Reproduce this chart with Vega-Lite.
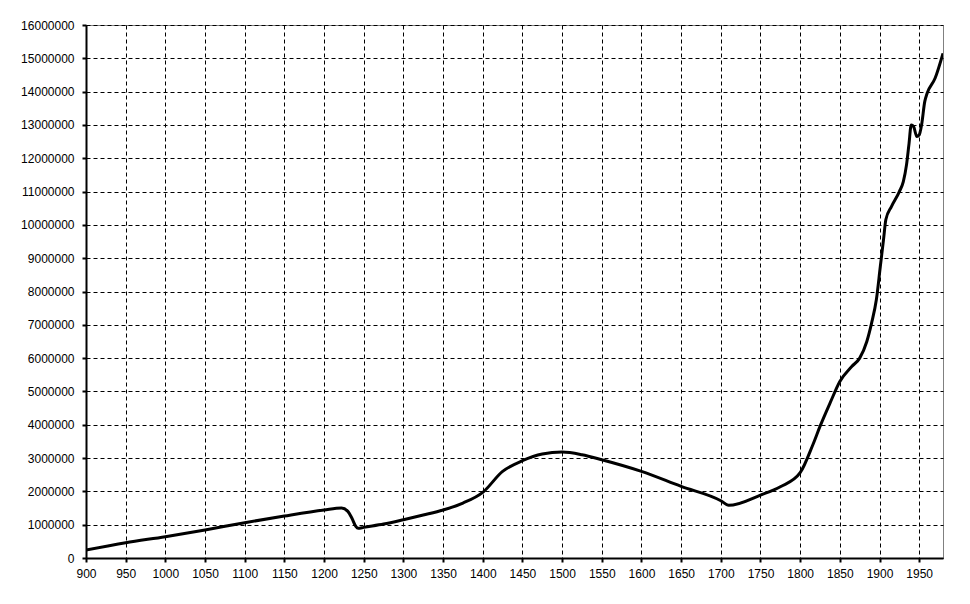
{
  "$schema": "https://vega.github.io/schema/vega-lite/v6.json",
  "width": 857,
  "height": 533,
  "autosize": "none",
  "padding": {"left": 86, "top": 25, "right": 27, "bottom": 46},
  "background": "white",
  "config": {
    "view": {"stroke": "#808080", "strokeWidth": 1},
    "axis": {
      "labelFont": "Liberation Sans",
      "labelFontSize": 12,
      "labelColor": "black",
      "domainColor": "black",
      "domainWidth": 2,
      "tickColor": "black",
      "tickWidth": 2,
      "tickSize": 4,
      "gridColor": "black",
      "gridDash": [4, 3],
      "gridWidth": 1,
      "gridOpacity": 1,
      "title": null
    }
  },
  "data": {
    "values": [
      {"year": 900, "pop": 240000},
      {"year": 950, "pop": 460000},
      {"year": 1000, "pop": 640000},
      {"year": 1050, "pop": 840000},
      {"year": 1100, "pop": 1060000},
      {"year": 1150, "pop": 1260000},
      {"year": 1200, "pop": 1440000},
      {"year": 1222, "pop": 1500000},
      {"year": 1230, "pop": 1400000},
      {"year": 1235, "pop": 1200000},
      {"year": 1240, "pop": 950000},
      {"year": 1243, "pop": 890000},
      {"year": 1250, "pop": 920000},
      {"year": 1275, "pop": 1020000},
      {"year": 1300, "pop": 1150000},
      {"year": 1325, "pop": 1290000},
      {"year": 1350, "pop": 1440000},
      {"year": 1375, "pop": 1650000},
      {"year": 1400, "pop": 1970000},
      {"year": 1425, "pop": 2600000},
      {"year": 1450, "pop": 2920000},
      {"year": 1475, "pop": 3120000},
      {"year": 1500, "pop": 3180000},
      {"year": 1525, "pop": 3100000},
      {"year": 1550, "pop": 2950000},
      {"year": 1600, "pop": 2600000},
      {"year": 1650, "pop": 2150000},
      {"year": 1700, "pop": 1720000},
      {"year": 1710, "pop": 1580000},
      {"year": 1750, "pop": 1890000},
      {"year": 1775, "pop": 2140000},
      {"year": 1800, "pop": 2560000},
      {"year": 1816, "pop": 3400000},
      {"year": 1825, "pop": 3950000},
      {"year": 1838, "pop": 4670000},
      {"year": 1850, "pop": 5300000},
      {"year": 1865, "pop": 5750000},
      {"year": 1875, "pop": 6000000},
      {"year": 1884, "pop": 6500000},
      {"year": 1890, "pop": 7050000},
      {"year": 1896, "pop": 7750000},
      {"year": 1901, "pop": 8750000},
      {"year": 1905, "pop": 9550000},
      {"year": 1908, "pop": 10160000},
      {"year": 1915, "pop": 10550000},
      {"year": 1925, "pop": 11000000},
      {"year": 1930, "pop": 11300000},
      {"year": 1934, "pop": 11800000},
      {"year": 1937, "pop": 12400000},
      {"year": 1940, "pop": 13000000},
      {"year": 1943, "pop": 12950000},
      {"year": 1947, "pop": 12650000},
      {"year": 1950, "pop": 12700000},
      {"year": 1953, "pop": 13000000},
      {"year": 1957, "pop": 13700000},
      {"year": 1960, "pop": 13950000},
      {"year": 1970, "pop": 14400000},
      {"year": 1980, "pop": 15150000}
    ]
  },
  "mark": {"type": "line", "color": "black", "strokeWidth": 3, "interpolate": "monotone", "clip": true},
  "encoding": {
    "x": {
      "field": "year",
      "type": "quantitative",
      "scale": {"domain": [900, 1980], "nice": false, "zero": false},
      "axis": {
        "values": [900, 950, 1000, 1050, 1100, 1150, 1200, 1250, 1300, 1350, 1400, 1450, 1500, 1550, 1600, 1650, 1700, 1750, 1800, 1850, 1900, 1950],
        "format": "d",
        "labelPadding": 6,
        "labelFlush": false,
        "labelOverlap": false
      }
    },
    "y": {
      "field": "pop",
      "type": "quantitative",
      "scale": {"domain": [0, 16000000], "nice": false},
      "axis": {
        "values": [0, 1000000, 2000000, 3000000, 4000000, 5000000, 6000000, 7000000, 8000000, 9000000, 10000000, 11000000, 12000000, 13000000, 14000000, 15000000, 16000000],
        "format": "d",
        "labelPadding": 8,
        "labelFlush": false,
        "labelOverlap": false
      }
    }
  }
}
